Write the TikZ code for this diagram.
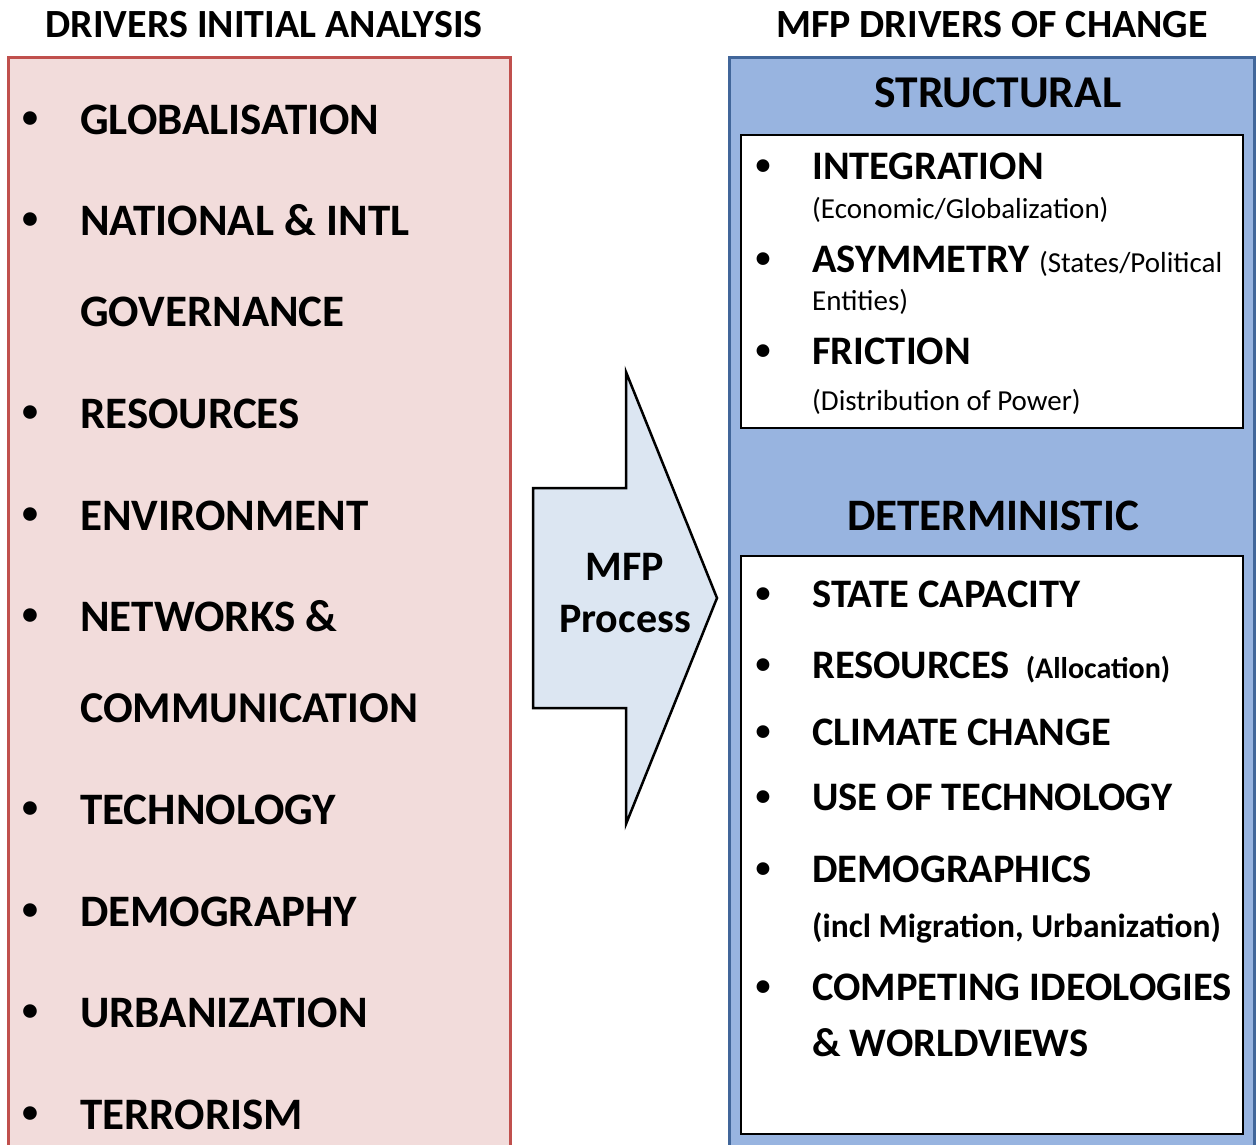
\documentclass[tikz,border=0pt]{standalone}
\usepackage{fontspec}
\setmainfont{Carlito}
\definecolor{redfill}{HTML}{F2DCDB}
\definecolor{redline}{HTML}{C0504D}
\definecolor{bluefill}{HTML}{98B4E0}
\definecolor{blueline}{HTML}{41669A}
\definecolor{arrowfill}{HTML}{DCE6F2}
\begin{document}
\begin{tikzpicture}[x=1pt,y=-1pt,
  txt/.style={anchor=base west,inner sep=0pt,font=\bfseries\fontsize{45}{45}\selectfont},
  bul/.style={anchor=center,inner sep=0pt,font=\bfseries\fontsize{32}{32}\selectfont},
  rtxt/.style={anchor=base west,inner sep=0pt,font=\bfseries\fontsize{40.5}{40.5}\selectfont},
  rbul/.style={anchor=center,inner sep=0pt,font=\bfseries\fontsize{30}{30}\selectfont},
  small/.style={font=\fontsize{29}{29}\selectfont},
  title/.style={anchor=base,inner sep=0pt,font=\bfseries\fontsize{40}{40}\selectfont},
  head/.style={anchor=base,inner sep=0pt,font=\bfseries\fontsize{45.5}{45.5}\selectfont},
  arrtxt/.style={anchor=base,inner sep=0pt,font=\bfseries\fontsize{42}{42}\selectfont}]
\useasboundingbox (0,0) rectangle (1256,1144);
\fill[white] (0,0) rectangle (1256,1144);
% titles
\node[title] (t1) at (264,37) {DRIVERS INITIAL ANALYSIS};
\node[title] (t2) at (992,37) {MFP DRIVERS OF CHANGE};
% left box
\draw[redline,line width=3pt,fill=redfill] (8,57) rectangle (510,1160);
\foreach \y/\t [count=\i] in {134/GLOBALISATION,235/NATIONAL \& INTL,428/RESOURCES,530/ENVIRONMENT,631/NETWORKS \&,824/TECHNOLOGY,926/DEMOGRAPHY,1027/URBANIZATION,1129/TERRORISM}{
  \node[bul] (lb\i) at (30,\y-14) {•};
  \node[txt] (l\i) at (80,\y) {\t};
}
\node[txt] (lgov) at (80,326) {GOVERNANCE};
\node[txt,font=\bfseries\fontsize{44}{44}\selectfont] (lcom) at (80,722) {COMMUNICATION};
% arrow
\draw[line width=2.5pt,fill=arrowfill,line join=miter]
  (533,488) -- (626,488) -- (626,372) -- (717,598) -- (626,824) -- (626,708) -- (533,708) -- cycle;
\node[arrtxt] (mfp) at (625,580) {MFP};
\node[arrtxt] (proc) at (625,632) {Process};
% right box
\draw[blueline,line width=3pt,fill=bluefill] (729,57) rectangle (1254,1160);
\node[head] (st) at (998,107) {STRUCTURAL};
\node[head,font=\bfseries\fontsize{45}{45}\selectfont] (det) at (993,530) {DETERMINISTIC};
\draw[black,line width=1.5pt,fill=white] (741,135) rectangle (1243,428);
\draw[black,line width=1.5pt,fill=white] (741,556) rectangle (1243,1134);
% structural items
\node[rbul] (sb1) at (763,167) {•};
\node[rtxt] (s1) at (812,179) {INTEGRATION};
\node[rtxt,small] (s1b) at (812,218) {(Economic/Globalization)};
\node[rbul] (sb2) at (763,260) {•};
\node[rtxt] (s2) at (812,272) {ASYMMETRY {\mdseries\fontsize{29}{29}\selectfont (States/Political}};
\node[rtxt,small] (s2b) at (812,310) {Entities)};
\node[rbul] (sb3) at (763,352) {•};
\node[rtxt] (s3) at (812,364) {FRICTION};
\node[rtxt,small] (s3b) at (812,410) {(Distribution of Power)};
% deterministic items
\tikzset{dtxt/.style={rtxt}}
\foreach \y/\t [count=\i] in {607/STATE CAPACITY,745/CLIMATE CHANGE,810/USE OF TECHNOLOGY,882/DEMOGRAPHICS,1000/COMPETING IDEOLOGIES}{
  \node[rbul] (db\i) at (763,\y-12) {•};
  \node[dtxt] (d\i) at (812,\y) {\t};
}
\node[rbul] (dbr) at (763,666) {•};
\node[dtxt] (dres) at (812,678) {RESOURCES\hspace{16pt}{\fontsize{30}{30}\selectfont (Allocation)}};
\node[dtxt,font=\bfseries\fontsize{33.5}{33.5}\selectfont] (dmig) at (812,937) {(incl Migration, Urbanization)};
\node[dtxt] (dwv) at (812,1056) {\& WORLDVIEWS};
\end{tikzpicture}
\end{document}
